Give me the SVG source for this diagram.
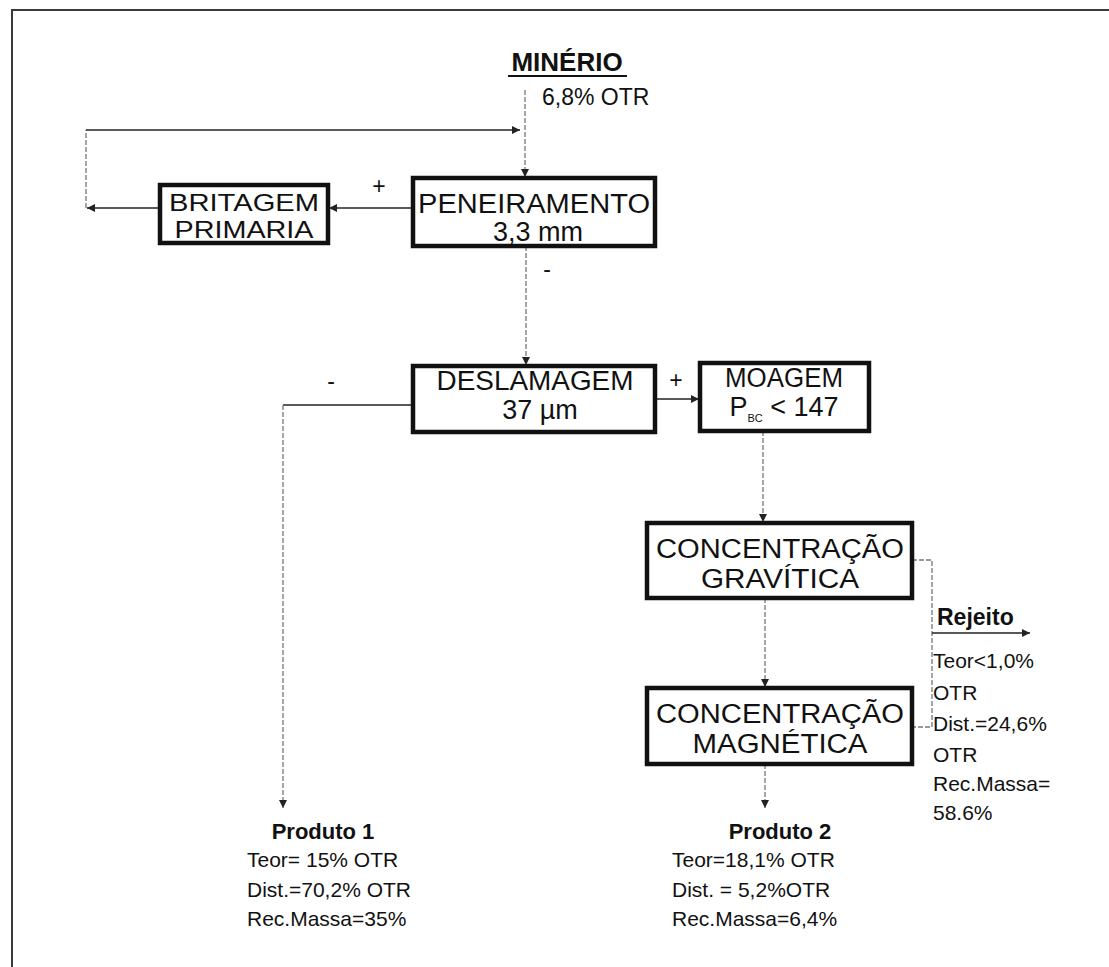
<svg xmlns="http://www.w3.org/2000/svg" width="1109" height="967" viewBox="0 0 1109 967">
  <style>
    .frame { fill: none; stroke: #3a3a3a; stroke-width: 2; }
    .box { fill: #ffffff; stroke: #111111; stroke-width: 4.5; }
    .lbl { font-family: "Liberation Sans", Arial, sans-serif; font-size: 27px; fill: #111111; text-anchor: middle; }
    .txt { font-family: "Liberation Sans", Arial, sans-serif; font-size: 21px; fill: #111111; }
    .bold { font-weight: bold; }
    .sign { font-family: "Liberation Sans", Arial, sans-serif; font-size: 23px; fill: #111111; text-anchor: middle; }
    .solid { fill: none; stroke: #222222; stroke-width: 1.6; }
    .dash { fill: none; stroke: #777777; stroke-width: 1.3; stroke-dasharray: 5 2; }
  </style>
  <defs>
    <marker id="arrow" viewBox="0 0 10 10" refX="10" refY="5" markerWidth="8" markerHeight="8" orient="auto" markerUnits="userSpaceOnUse">
      <path d="M0,0 L10,5 L0,10 z" fill="#222222"/>
    </marker>
  </defs>

  <rect width="1109" height="967" fill="#ffffff"/>

  <!-- page frame (top and left edges) -->
  <path class="frame" d="M1109,10 H12 V967"/>

  <!-- feed -->
  <g id="minerio">
    <text class="txt bold" x="567" y="71" style="font-size:26px" text-anchor="middle">MINÉRIO</text>
    <line x1="508" y1="76" x2="627" y2="76" stroke="#111111" stroke-width="2"/>
    <text class="txt" x="542" y="105" style="font-size:23px">6,8% OTR</text>
  </g>

  <!-- connectors -->
  <g id="connectors">
    <path class="dash" d="M525,90 V177" marker-end="url(#arrow)"/>
    <path class="solid" d="M160,208 H87" marker-end="url(#arrow)"/>
    <path class="dash" d="M86,208 V130"/>
    <path class="solid" d="M86,130 H520" marker-end="url(#arrow)"/>
    <path class="solid" d="M413,208 H329" marker-end="url(#arrow)"/>
    <path class="dash" d="M526,246 V365" marker-end="url(#arrow)"/>
    <path class="solid" d="M413,405 H283"/>
    <path class="dash" d="M283,405 V808" marker-end="url(#arrow)"/>
    <path class="solid" d="M655,399 H699" marker-end="url(#arrow)"/>
    <path class="dash" d="M763,431 V522" marker-end="url(#arrow)"/>
    <path class="dash" d="M765,598 V687" marker-end="url(#arrow)"/>
    <path class="dash" d="M765,764 V808" marker-end="url(#arrow)"/>
    <path class="dash" d="M912,560 H932 V727 H912"/>
    <path class="solid" d="M932,633 H1030" marker-end="url(#arrow)"/>
    <text class="sign" x="379" y="194">+</text>
    <text class="sign" x="547" y="277">-</text>
    <text class="sign" x="331" y="389">-</text>
    <text class="sign" x="676" y="388">+</text>
  </g>

  <g id="britagem">
    <rect class="box" x="160" y="185" width="168" height="58"/>
    <text class="lbl" x="244" y="211" style="font-size:24px" textLength="150" lengthAdjust="spacingAndGlyphs">BRITAGEM</text>
    <text class="lbl" x="244" y="238" style="font-size:24px" textLength="139" lengthAdjust="spacingAndGlyphs">PRIMARIA</text>
  </g>

  <g id="peneiramento">
    <rect class="box" x="413" y="178" width="242" height="68"/>
    <text class="lbl" x="534" y="213" textLength="232" lengthAdjust="spacingAndGlyphs">PENEIRAMENTO</text>
    <text class="lbl" x="538" y="241">3,3 mm</text>
  </g>

  <g id="deslamagem">
    <rect class="box" x="413" y="366" width="242" height="66"/>
    <text class="lbl" x="535" y="390" textLength="197" lengthAdjust="spacingAndGlyphs">DESLAMAGEM</text>
    <text class="lbl" x="540" y="419">37 µm</text>
  </g>

  <g id="moagem">
    <rect class="box" x="700" y="363" width="169" height="68"/>
    <text class="lbl" x="784" y="387" textLength="118" lengthAdjust="spacingAndGlyphs">MOAGEM</text>
    <text class="lbl" x="784" y="416">P<tspan style="font-size:11px" dy="6">BC</tspan><tspan dy="-6"> &lt; 147</tspan></text>
  </g>

  <g id="gravitica">
    <rect class="box" x="647" y="523" width="265" height="75"/>
    <text class="lbl" x="780" y="558" textLength="248" lengthAdjust="spacingAndGlyphs">CONCENTRAÇÃO</text>
    <text class="lbl" x="780" y="588" textLength="158" lengthAdjust="spacingAndGlyphs">GRAVÍTICA</text>
  </g>

  <g id="magnetica">
    <rect class="box" x="647" y="688" width="265" height="76"/>
    <text class="lbl" x="780" y="723" textLength="248" lengthAdjust="spacingAndGlyphs">CONCENTRAÇÃO</text>
    <text class="lbl" x="780" y="753" textLength="175" lengthAdjust="spacingAndGlyphs">MAGNÉTICA</text>
  </g>

  <g id="rejeito">
    <text class="txt bold" x="937" y="625" style="font-size:23px">Rejeito</text>
    <text class="txt" x="933" y="668">Teor&lt;1,0%</text>
    <text class="txt" x="933" y="700">OTR</text>
    <text class="txt" x="933" y="731">Dist.=24,6%</text>
    <text class="txt" x="933" y="762">OTR</text>
    <text class="txt" x="933" y="791">Rec.Massa=</text>
    <text class="txt" x="933" y="820">58.6%</text>
  </g>

  <g id="produto1">
    <text class="txt bold" x="323" y="839" text-anchor="middle" style="font-size:22px">Produto 1</text>
    <text class="txt" x="247" y="867">Teor= 15% OTR</text>
    <text class="txt" x="247" y="897">Dist.=70,2% OTR</text>
    <text class="txt" x="247" y="926">Rec.Massa=35%</text>
  </g>

  <g id="produto2">
    <text class="txt bold" x="780" y="839" text-anchor="middle" style="font-size:22px">Produto 2</text>
    <text class="txt" x="672" y="867">Teor=18,1% OTR</text>
    <text class="txt" x="672" y="897">Dist. = 5,2%OTR</text>
    <text class="txt" x="672" y="926">Rec.Massa=6,4%</text>
  </g>
</svg>
